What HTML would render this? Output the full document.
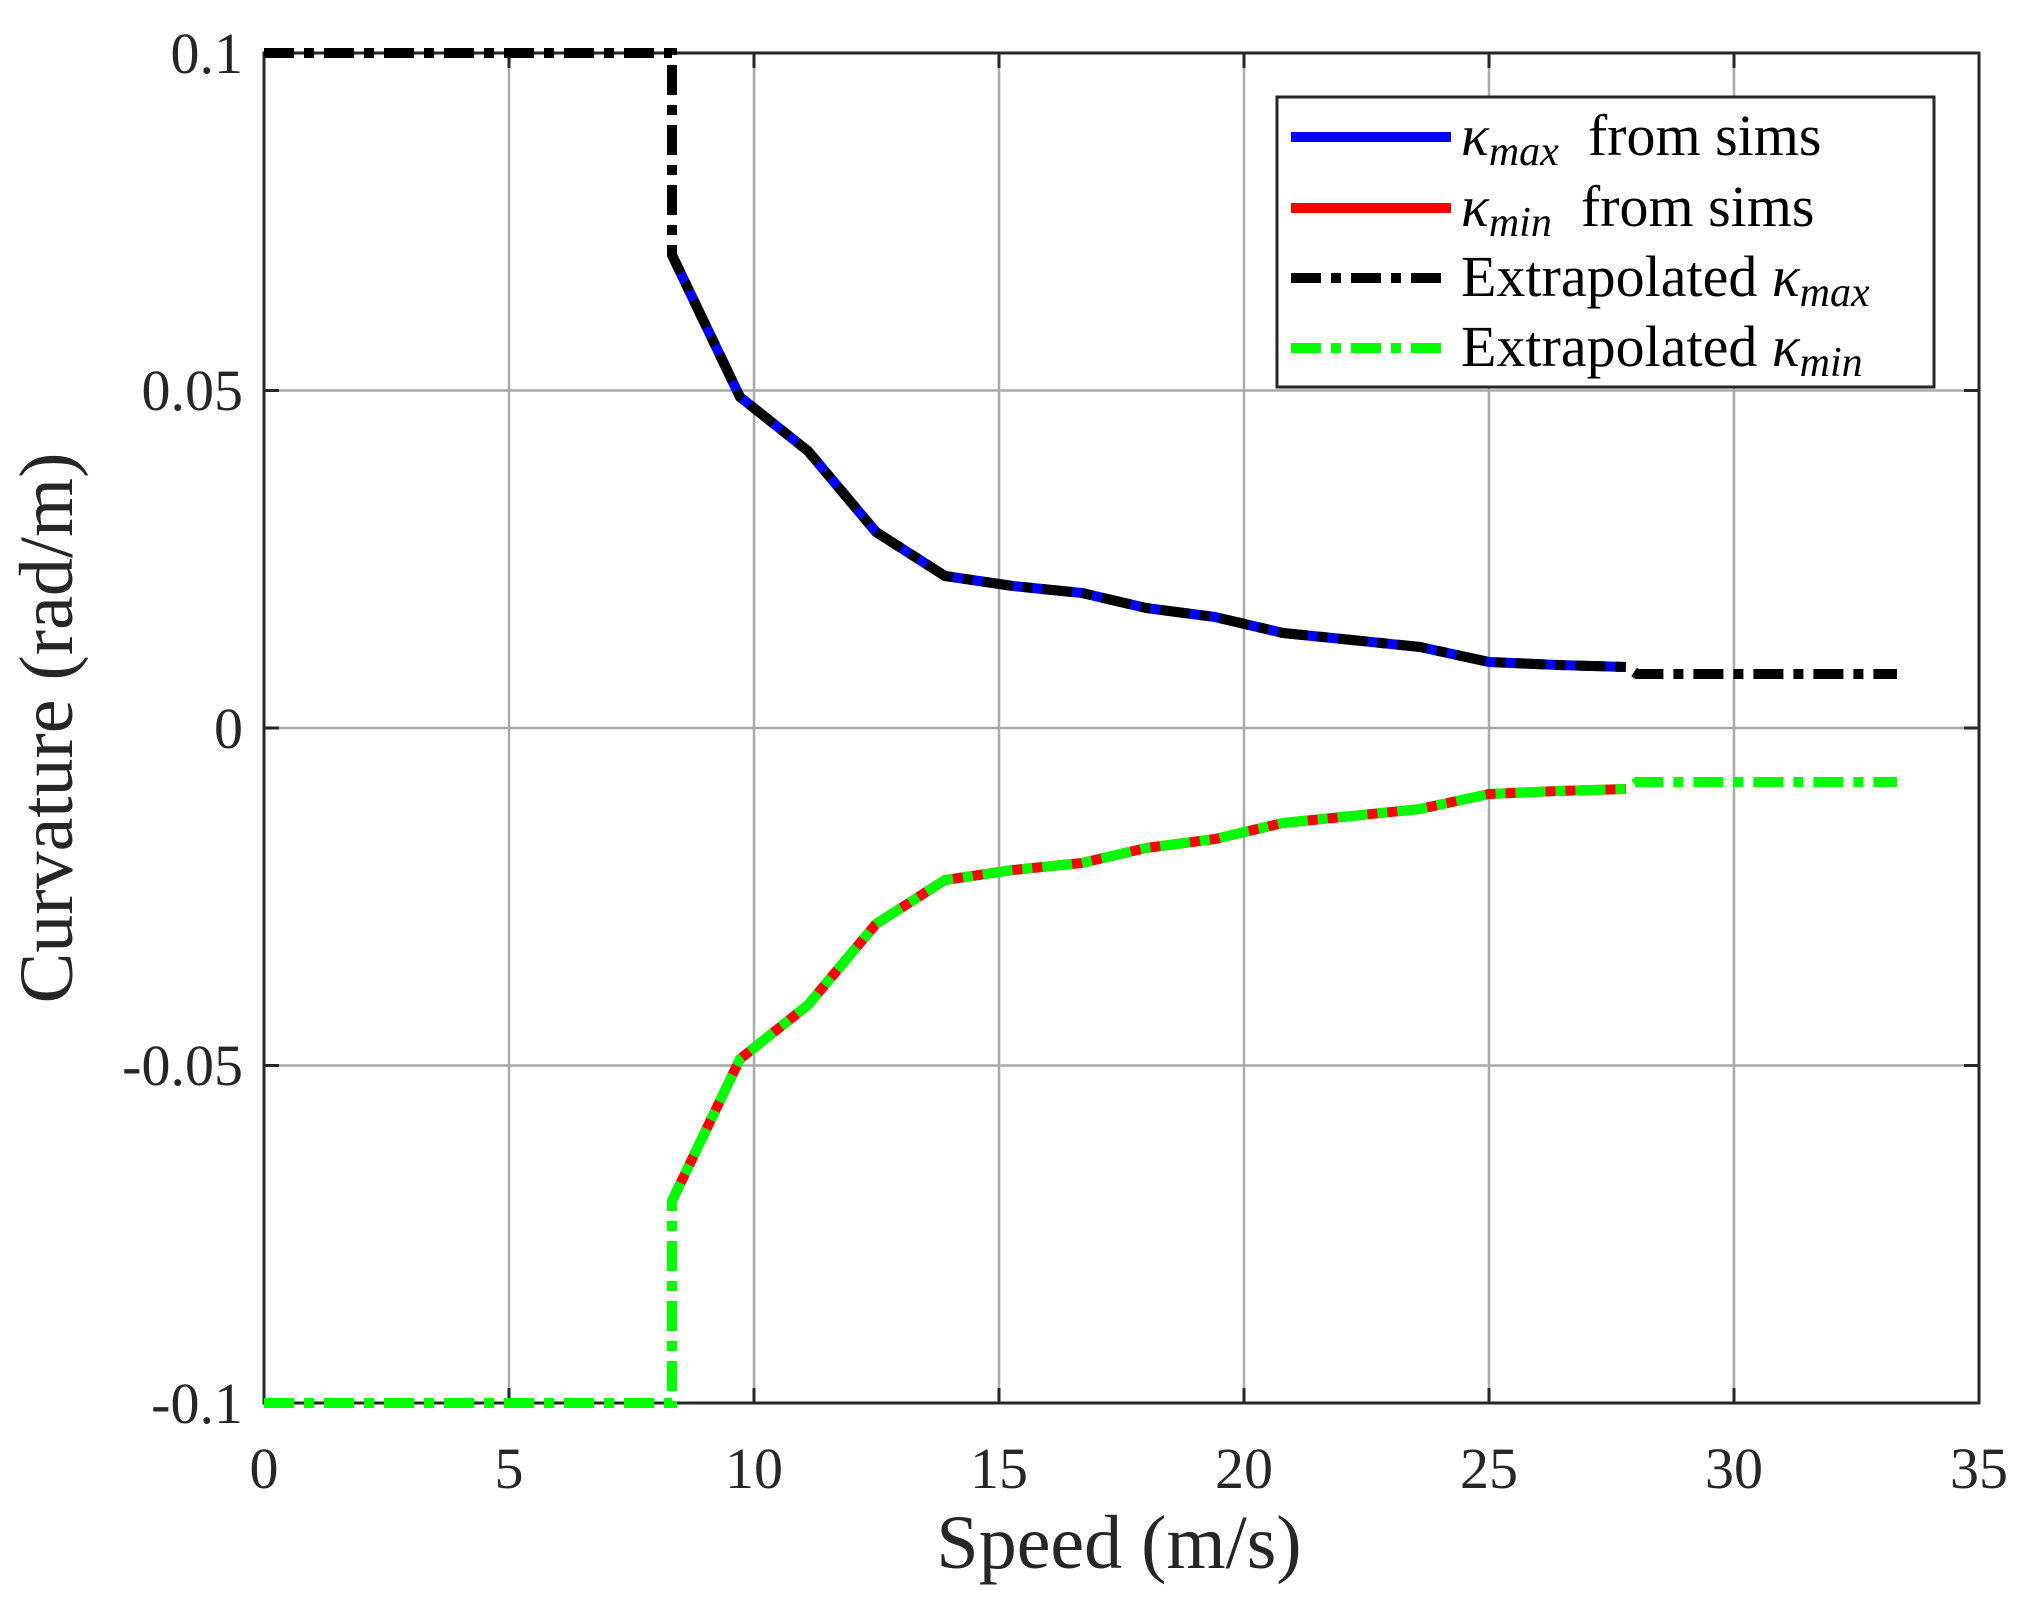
<!DOCTYPE html>
<html><head><style>body{margin:0;background:#fff}svg{display:block}text{font-family:"Liberation Serif",serif;fill:#262626}</style></head>
<body>
<svg width="2022" height="1615" viewBox="0 0 2022 1615" xmlns="http://www.w3.org/2000/svg">
<rect width="2022" height="1615" fill="#fff"/>
<g stroke="#aaaaaa" stroke-width="2.5">
<line x1="509" y1="53" x2="509" y2="1403"/><line x1="754" y1="53" x2="754" y2="1403"/><line x1="999" y1="53" x2="999" y2="1403"/><line x1="1244" y1="53" x2="1244" y2="1403"/><line x1="1489" y1="53" x2="1489" y2="1403"/><line x1="1734" y1="53" x2="1734" y2="1403"/>
<line x1="264" y1="390.5" x2="1979" y2="390.5"/><line x1="264" y1="728" x2="1979" y2="728"/><line x1="264" y1="1065.5" x2="1979" y2="1065.5"/>
</g>
<g stroke="#262626" stroke-width="3">
<path d="M509 53v15M754 53v15M999 53v15M1244 53v15M1489 53v15M1734 53v15M509 1403v-15M754 1403v-15M999 1403v-15M1244 1403v-15M1489 1403v-15M1734 1403v-15M264 390.5h15M264 728h15M264 1065.5h15M1979 390.5h-15M1979 728h-15M1979 1065.5h-15"/>
<rect x="264" y="53" width="1715" height="1350" fill="none"/>
</g>
<g fill="none" stroke-width="10" stroke-linejoin="round">
<polyline stroke="#00f" points="672,255 740,397 808,451 876,532 945,576 1013,586 1082,593 1146,608 1215,617 1283,633 1352,640 1420,647 1489,662 1558,665 1626,667"/>
<polyline stroke="#f00" points="672,1201 740,1059 808,1005 876,924 945,880 1013,870 1082,863 1146,848 1215,839 1283,823 1352,816 1420,809 1489,794 1558,791 1626,789"/>
</g>
<g fill="none" stroke-width="10" stroke-dasharray="30 10 10 10">
<polyline stroke="#000" points="264,53 672,53 672,255 740,397 808,451 876,532 945,576 1013,586 1082,593 1146,608 1215,617 1283,633 1352,640 1420,647 1489,662 1558,665 1626,667 1637,674 1897,674"/>
<polyline stroke="#0f0" points="264,1403 672,1403 672,1201 740,1059 808,1005 876,924 945,880 1013,870 1082,863 1146,848 1215,839 1283,823 1352,816 1420,809 1489,794 1558,791 1626,789 1637,782 1897,782"/>
</g>
<g font-size="58" text-anchor="middle">
<text x="264" y="1488">0</text><text x="509" y="1488">5</text><text x="754" y="1488">10</text><text x="999" y="1488">15</text><text x="1244" y="1488">20</text><text x="1489" y="1488">25</text><text x="1734" y="1488">30</text><text x="1979" y="1488">35</text>
</g>
<g font-size="58" text-anchor="end">
<text x="243" y="73">0.1</text><text x="243" y="410">0.05</text><text x="243" y="748">0</text><text x="243" y="1085">-0.05</text><text x="243" y="1423">-0.1</text>
</g>
<text x="1119" y="1568" font-size="76" text-anchor="middle">Speed (m/s)</text>
<text transform="translate(72,728) rotate(-90)" font-size="76" text-anchor="middle">Curvature (rad/m)</text>
<rect x="1277" y="97" width="657" height="290" fill="#fff" stroke="#262626" stroke-width="3"/>
<g stroke-width="10">
<line x1="1291" y1="137" x2="1451" y2="137" stroke="#00f"/>
<line x1="1291" y1="208" x2="1451" y2="208" stroke="#f00"/>
<line x1="1291" y1="278" x2="1451" y2="278" stroke="#000" stroke-dasharray="30 10 10 10"/>
<line x1="1291" y1="348" x2="1451" y2="348" stroke="#0f0" stroke-dasharray="30 10 10 10"/>
</g>
<g font-size="58">
<text x="1461" y="155" style="fill:#000"><tspan font-style="italic">κ</tspan><tspan font-style="italic" font-size="42" dy="10">max</tspan><tspan dy="-10" xml:space="preserve">  from sims</tspan></text>
<text x="1461" y="226" style="fill:#000"><tspan font-style="italic">κ</tspan><tspan font-style="italic" font-size="42" dy="10">min</tspan><tspan dy="-10" xml:space="preserve">  from sims</tspan></text>
<text x="1461" y="296" style="fill:#000">Extrapolated <tspan font-style="italic">κ</tspan><tspan font-style="italic" font-size="42" dy="10">max</tspan></text>
<text x="1461" y="366" style="fill:#000">Extrapolated <tspan font-style="italic">κ</tspan><tspan font-style="italic" font-size="42" dy="10">min</tspan></text>
</g>
</svg>
</body></html>
